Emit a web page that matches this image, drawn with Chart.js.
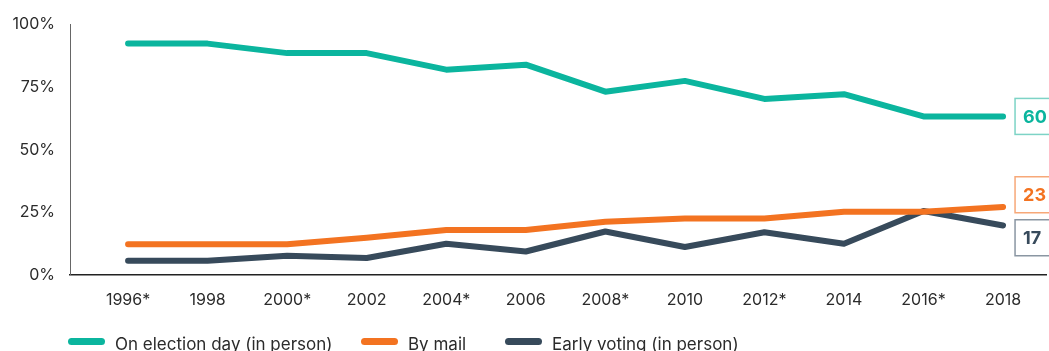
<!DOCTYPE html>
<html>
<head>
<meta charset="utf-8">
<script src="https://cdn.jsdelivr.net/npm/chart.js@4"></script>
<style>
  html, body { margin: 0; padding: 0; background: #fff; overflow: hidden; }
  #wrap { width: 1049px; height: 351px; position: relative; }
</style>
</head>
<body>
<div id="wrap"><canvas id="votingChart"></canvas></div>
<script>
// Values (percent of voters)
const years = ["1996*", "1998", "2000*", "2002", "2004*", "2006", "2008*", "2010", "2012*", "2014", "2016*", "2018"];
const onElectionDay = [92.4, 92.4, 88.6, 88.6, 82, 84, 73.2, 77.5, 70.3, 72.2, 63.3, 63.3];
const byMail = [12.2, 12.2, 12.2, 14.8, 17.9, 17.9, 21.2, 22.5, 22.5, 25.2, 25.2, 27.1];
const earlyVoting = [5.6, 5.6, 7.6, 6.7, 12.4, 9.3, 17.3, 11.1, 17.0, 12.4, 25.5, 19.7];
const endLabels = [60, 23, 17];
const yTicks = [0, 25, 50, 75, 100];

const seriesNames = ["On election day (in person)", "By mail", "Early voting (in person)"];
const lineColors = ["#0bb59e", "#f37321", "#374a5b"];
const boxBorders = ["#7dd3c6", "#f7a878", "#8a96a2"];
// left edge of each legend swatch
const legendX = [68, 361, 505];

const FONT = "Inter, 'Open Sans', sans-serif";

function toPoints(values) {
  return values.map((v, i) => ({ x: i, y: v }));
}

// Draws the boxed end-of-line values, nudged apart so they don't overlap
const endLabelPlugin = {
  id: "endLabels",
  afterDatasetsDraw(chart) {
    const ctx = chart.ctx;
    const boxH = 36, boxW = 52, minGap = 43;
    const items = chart.data.datasets.map((ds, i) => {
      const meta = chart.getDatasetMeta(i);
      const last = meta.data[meta.data.length - 1];
      return { x: last.x, y: last.y, i };
    });
    items.sort((a, b) => a.y - b.y);
    for (let pass = 0; pass < 5; pass++) {
      for (let k = 1; k < items.length; k++) {
        const a = items[k - 1], b = items[k];
        if (b.y - a.y < minGap) {
          const mid = (a.y + b.y) / 2;
          a.y = mid - minGap / 2;
          b.y = mid + minGap / 2;
        }
      }
    }
    ctx.save();
    items.forEach((it) => {
      const left = it.x + 12;
      const top = it.y - boxH / 2;
      ctx.fillStyle = "#fff";
      ctx.fillRect(left, top, boxW, boxH);
      ctx.strokeStyle = boxBorders[it.i];
      ctx.lineWidth = 1.5;
      ctx.strokeRect(left, top, boxW, boxH);
      ctx.fillStyle = lineColors[it.i];
      ctx.font = "bold 18px " + FONT;
      ctx.textBaseline = "middle";
      ctx.textAlign = "left";
      ctx.fillText(String(endLabels[it.i]), left + 8, it.y + 1);
    });
    ctx.restore();
  },
};

// Simple bottom legend: rounded swatch + label, partly cut by the canvas edge like the original
const bottomLegend = {
  id: "bottomLegend",
  afterDraw(chart) {
    const ctx = chart.ctx;
    const swatchY = chart.height - 9.5;
    ctx.save();
    chart.data.datasets.forEach((ds, i) => {
      const x = legendX[i];
      ctx.beginPath();
      ctx.roundRect(x, swatchY - 3.5, 37, 7, 3.5);
      ctx.fillStyle = ds.borderColor;
      ctx.fill();
      ctx.fillStyle = "#2b2b2b";
      ctx.font = "17px " + FONT;
      ctx.textBaseline = "alphabetic";
      ctx.textAlign = "left";
      ctx.fillText(ds.label, x + 47, chart.height - 1);
    });
    ctx.restore();
  },
};

function createChart() {
  const ctx = document.getElementById("votingChart").getContext("2d");
  const datasets = [onElectionDay, byMail, earlyVoting].map((values, i) => ({
    label: seriesNames[i],
    data: toPoints(values),
    borderColor: lineColors[i],
    backgroundColor: lineColors[i],
    borderWidth: 6,
    borderCapStyle: "round",
    borderJoinStyle: "round",
    pointRadius: 0,
    tension: 0,
  }));

  new Chart(ctx, {
    type: "line",
    data: { datasets },
    plugins: [endLabelPlugin, bottomLegend],
    options: {
      responsive: true,
      maintainAspectRatio: false,
      animation: false,
      layout: {
        padding: { top: 17, right: 3, left: 0, bottom: 25 },
      },
      scales: {
        x: {
          type: "linear",
          min: -0.73,
          max: 11.54,
          afterBuildTicks: (scale) => {
            scale.ticks = years.map((_, i) => ({ value: i }));
          },
          ticks: {
            callback: (v) => years[v],
            autoSkip: false,
            maxRotation: 0,
            padding: 16,
            color: "#2b2b2b",
            font: { family: FONT, size: 16 },
          },
          grid: { display: false, drawTicks: false },
          border: { display: true, color: "#222", width: 1.5 },
        },
        y: {
          min: 0,
          max: 100,
          afterBuildTicks: (scale) => {
            scale.ticks = yTicks.map((v) => ({ value: v }));
          },
          afterFit: (scale) => {
            scale.width = 70;
          },
          ticks: {
            callback: (v) => v + "%",
            padding: 15,
            color: "#2b2b2b",
            font: { family: FONT, size: 16 },
          },
          grid: { display: false, drawTicks: false },
          border: { display: true, color: "#666", width: 1 },
        },
      },
      plugins: {
        tooltip: { enabled: false },
        legend: { display: false },
      },
    },
  });
}

createChart();
</script>
</body>
</html>
